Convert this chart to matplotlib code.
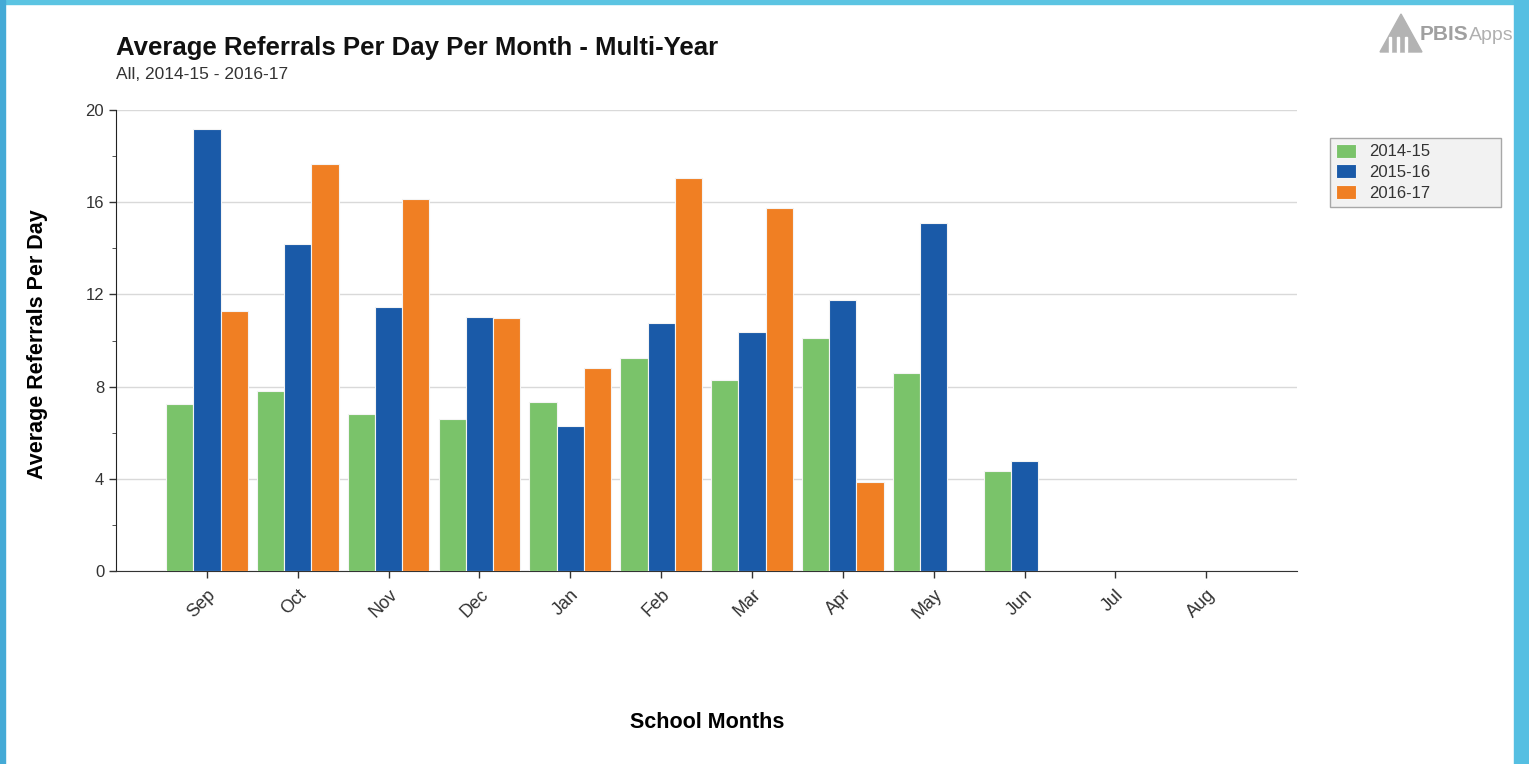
import numpy as np
import matplotlib
matplotlib.use('Agg')
import matplotlib.pyplot as plt
from matplotlib.patches import Rectangle, Polygon
from matplotlib.ticker import MultipleLocator

plt.rcParams['font.family'] = ['Liberation Sans', 'DejaVu Sans']

# data
months = ['Sep', 'Oct', 'Nov', 'Dec', 'Jan', 'Feb', 'Mar', 'Apr', 'May', 'Jun', 'Jul', 'Aug']
years = ['2014-15', '2015-16', '2016-17']
y1415 = [7.25, 7.83, 6.81, 6.61, 7.35, 9.23, 8.30, 10.10, 8.59, 4.35, 0, 0]
y1516 = [19.16, 14.20, 11.45, 11.01, 6.28, 10.78, 10.39, 11.74, 15.09, 4.78, 0, 0]
y1617 = [11.26, 17.65, 16.15, 10.97, 8.80, 17.07, 15.75, 3.87, 0, 0, 0, 0]
colors = ['#7AC36A', '#1A5AA8', '#F07F23']

fig = plt.figure(figsize=(15.29, 7.64), dpi=100)
ax = fig.add_axes([0.0759, 0.2526, 0.7724, 0.6034])

x = np.arange(len(months))
w = 0.30
for k, (vals, c, lab) in enumerate(zip([y1415, y1516, y1617], colors, years)):
    ax.bar(x + (k - 1) * w, vals, width=w, color=c, edgecolor='#F4F4F4',
           linewidth=0.8, label=lab, zorder=3)

ax.set_xlim(-1, 12)
ax.set_ylim(0, 20)
ax.yaxis.set_major_locator(MultipleLocator(4))
ax.yaxis.set_minor_locator(MultipleLocator(2))
ax.grid(axis='y', color='#D9D9D9', linewidth=1, zorder=0)
ax.set_xticks(x)
ax.set_xticklabels(months, rotation=45, ha='right', rotation_mode='anchor')
ax.tick_params(axis='both', labelsize=12, colors='#333333', length=5, width=1)
ax.tick_params(axis='x', labelsize=13, pad=6)
ax.tick_params(axis='y', which='minor', length=3, color='#333333')
for s in ['top', 'right']:
    ax.spines[s].set_visible(False)
ax.spines['left'].set_color('#222222')
ax.spines['bottom'].set_color('#333333')

# titles
fig.text(0.0759, 0.922, 'Average Referrals Per Day Per Month - Multi-Year',
         fontsize=18.5, fontweight='bold', color='#111111', va='bottom')
fig.text(0.0759, 0.893, 'All, 2014-15 - 2016-17', fontsize=12.5, color='#333333', va='bottom')
fig.text(0.0245, 0.55, 'Average Referrals Per Day', rotation=90, fontsize=15.5,
         fontweight='bold', ha='center', va='center')
fig.text(0.4625, 0.054, 'School Months', fontsize=15.5, fontweight='bold',
         ha='center', va='center')

# legend
leg = fig.legend(loc='upper left', bbox_to_anchor=(0.870, 0.7317, 0.112, 0.0877),
                 mode='expand', borderaxespad=0, fontsize=12, handlelength=1.2,
                 handleheight=0.9, handletextpad=0.8, labelspacing=0.3, borderpad=0.35,
                 fancybox=False, framealpha=1)
leg.get_frame().set_facecolor('#F2F2F2')
leg.get_frame().set_edgecolor('#A8A8A8')
for t in leg.get_texts():
    t.set_color('#333333')

# logo
W, H = 1529, 764
def fx(px): return px / W
def fy(py): return 1 - py / H
fig.patches.append(Polygon([(fx(1380), fy(52)), (fx(1401), fy(14)), (fx(1422), fy(52))],
                           closed=True, color='#B3B3B3', transform=fig.transFigure))
for px in [1389, 1397, 1405]:
    fig.patches.append(Rectangle((fx(px), fy(52)), fx(2), 15 / H, color='white',
                                 transform=fig.transFigure))
t1 = fig.text(fx(1420), fy(35), 'PBIS', fontsize=15, fontweight='bold', color='#A0A0A0', va='center')
fig.add_artist(matplotlib.text.Annotation('Apps', xy=(1, 0.5), xycoords=t1, va='center',
                                          fontsize=14, color='#B0B0B0'))

# frame
fig.patches.append(Rectangle((0, 1 - 4 / H), 1, 4 / H, color='#5BC4E2', transform=fig.transFigure))
fig.patches.append(Rectangle((0, 0), 5 / W, 1, color='#44AAD6', transform=fig.transFigure))
fig.patches.append(Rectangle((1 - 15 / W, 0), 15 / W, 1, color='#55BFE2', transform=fig.transFigure))

plt.savefig('out.png', dpi=100)
